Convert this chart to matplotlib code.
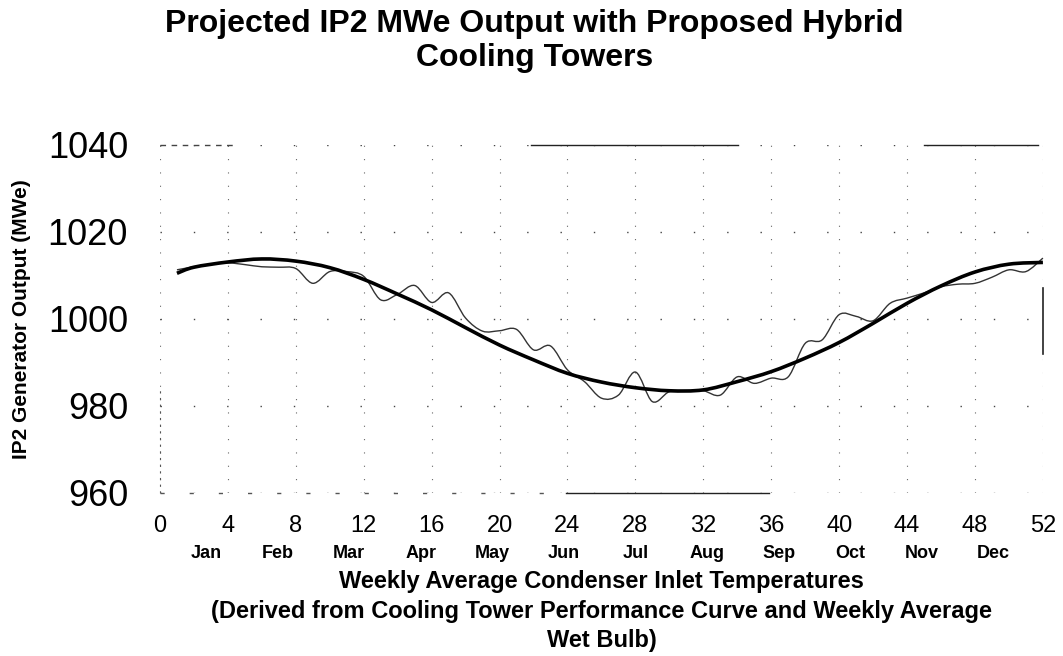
import matplotlib
matplotlib.use('Agg')
import matplotlib.pyplot as plt
from matplotlib.path import Path
from matplotlib.patches import PathPatch
import numpy as np

# weekly projected output (thin line), weeks 1..52
weeks = list(range(1, 53))
output_weekly = [1011.3, 1012.0, 1012.6, 1012.9, 1012.5, 1012.0, 1011.9, 1011.6,
                 1008.2, 1010.9, 1010.9, 1009.8, 1004.4, 1005.7, 1007.7, 1003.8,
                 1006.0, 1000.2, 997.2, 997.3, 997.6, 992.9, 993.8, 988.3,
                 985.6, 981.8, 982.5, 987.8, 981.0, 983.3, 983.5, 983.5,
                 982.5, 986.7, 985.2, 986.4, 986.7, 994.4, 995.2, 1001.0,
                 1000.6, 999.6, 1003.6, 1004.8, 1006.0, 1007.4, 1008.0, 1008.2,
                 1009.6, 1011.3, 1010.9, 1014.0]

# smooth trend (thick line)
trend_weeks = [1, 2, 4, 6, 8, 10, 12, 14, 16, 18, 20, 22, 24, 26, 28,
               30, 32, 34, 36, 38, 40, 42, 44, 46, 48, 50, 52]
output_trend = [1010.5, 1011.9, 1013.1, 1013.8, 1013.3, 1011.8, 1009.1, 1005.7,
                1002.1, 998.0, 994.0, 990.6, 987.5, 985.5, 984.2,
                983.5, 983.7, 985.6, 987.9, 991.0, 994.6, 999.0, 1003.6,
                1007.6, 1010.8, 1012.6, 1013.0]

x_ticks = list(range(0, 53, 4))
y_ticks = [960, 980, 1000, 1020, 1040]
months = ['Jan', 'Feb', 'Mar', 'Apr', 'May', 'Jun',
          'Jul', 'Aug', 'Sep', 'Oct', 'Nov', 'Dec']

fonts = ['Liberation Sans', 'DejaVu Sans']


def smooth_path(xs, ys):
    # Excel-like smoothed line: Catmull-Rom segments as cubic Bezier curves
    pts = np.column_stack([xs, ys]).astype(float)
    n = len(pts)
    verts = [pts[0]]
    codes = [Path.MOVETO]
    for i in range(n - 1):
        p0 = pts[max(i - 1, 0)]
        p1 = pts[i]
        p2 = pts[i + 1]
        p3 = pts[min(i + 2, n - 1)]
        verts += [p1 + (p2 - p0) / 6, p2 - (p3 - p1) / 6, p2]
        codes += [Path.CURVE4] * 3
    return Path(verts, codes)


fig = plt.figure(figsize=(10.63, 6.56), dpi=100)
ax = fig.add_axes([0.1505, 0.2485, 0.8306, 0.5305])

ax.add_patch(PathPatch(smooth_path(weeks, output_weekly), fill=False,
                       edgecolor='#333333', lw=1.0, clip_on=False, zorder=3))
ax.add_patch(PathPatch(smooth_path(trend_weeks, output_trend), fill=False,
                       edgecolor='black', lw=2.6, clip_on=False, zorder=4))

ax.set_xlim(0, 52)
ax.set_ylim(960, 1040)
ax.set_xticks(x_ticks)
ax.set_yticks(y_ticks)
ax.set_xticklabels([str(t) for t in x_ticks], family=fonts, fontsize=17)
ax.set_yticklabels([str(t) for t in y_ticks], family=fonts, fontsize=26)
ax.tick_params(axis='x', length=0, pad=16)
ax.tick_params(axis='y', length=0, pad=23)

# sparse dotted grid like the scanned original
ax.yaxis.grid(True, linestyle=(0, (1, 23)), color='#444444', lw=1.0)
ax.xaxis.grid(True, linestyle=(0, (1, 11)), color='#666666', lw=0.8)
for s in ax.spines.values():
    s.set_visible(False)

# broken frame fragments
ax.axhline(1040, 0.42, 0.655, color='#222222', lw=1.0, clip_on=False)
ax.axhline(1040, 0.865, 0.995, color='#222222', lw=1.0, clip_on=False)
ax.axhline(1040, 0.0, 0.085, color='#444444', lw=1.0, ls=(0, (4, 4)), clip_on=False)
ax.axhline(960, 0.46, 0.69, color='#222222', lw=1.0, clip_on=False)
ax.axhline(960, 0.0, 0.46, color='#555555', lw=1.0, ls=(0, (3, 18)), clip_on=False)
ax.axvline(52, 0.40, 0.59, color='#222222', lw=1.2, clip_on=False)
ax.axvline(0, 0.0, 0.3, color='#555555', lw=0.8, ls=(0, (2, 4)), clip_on=False)

# month labels under the week numbers
month_pos = np.linspace(2.7, 49.1, 12)
for m, p in zip(months, month_pos):
    ax.text(p, -0.175, m, transform=ax.get_xaxis_transform(), ha='center',
            va='center', fontsize=13, fontweight='bold', family=fonts)

ax.set_ylabel('IP2 Generator Output (MWe)', fontsize=15, fontweight='bold',
              family=fonts)
ax.yaxis.set_label_coords(-0.146, 0.5)

fig.text(0.566, 0.068,
         'Weekly Average Condenser Inlet Temperatures\n'
         '(Derived from Cooling Tower Performance Curve and Weekly Average\n'
         'Wet Bulb)',
         ha='center', va='center', fontsize=17, fontweight='bold',
         family=fonts, linespacing=1.36)

fig.text(0.5025, 0.937, 'Projected IP2 MWe Output with Proposed Hybrid\nCooling Towers',
         ha='center', va='center', fontsize=23, fontweight='bold',
         family=fonts, linespacing=1.16)

plt.savefig('out.png', dpi=100)
